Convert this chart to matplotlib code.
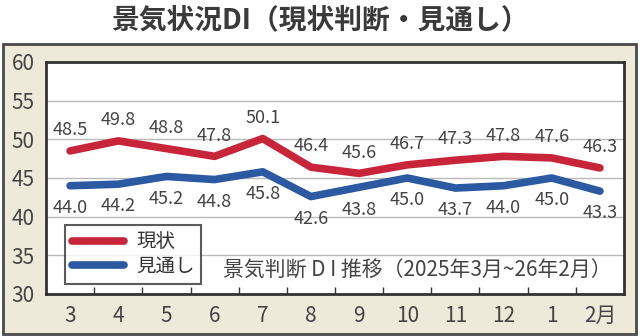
import matplotlib
matplotlib.use('Agg')
import matplotlib.pyplot as plt
from matplotlib.patches import Rectangle

# ---- data ----
months = ['3', '4', '5', '6', '7', '8', '9', '10', '11', '12', '1', '2月']
current = [48.5, 49.8, 48.8, 47.8, 50.1, 46.4, 45.6, 46.7, 47.3, 47.8, 47.6, 46.3]   # 現状
outlook = [44.0, 44.2, 45.2, 44.8, 45.8, 42.6, 43.8, 45.0, 43.7, 44.0, 45.0, 43.3]   # 見通し
yticks = [30, 35, 40, 45, 50, 55, 60]

RED = '#C8253A'
BLUE = '#2B5AA3'
TXT = '#444444'
NUM_FONT = ['Liberation Sans Narrow', 'Noto Sans CJK JP']
JP_FONT = ['Noto Sans CJK JP', 'DejaVu Sans']

W, H = 640, 336
fig = plt.figure(figsize=(W / 100, H / 100), dpi=100)
fig.patch.set_facecolor('white')

# beige frame
fig.patches.append(Rectangle((3 / W, 2 / H), 633 / W, 290 / H, transform=fig.transFigure,
                             facecolor='#EEEADA', edgecolor='#4a4a4a', lw=2, zorder=-10))
fig.text(0.5, 1 - 20 / H, '景気状況DI（現状判断・見通し）', ha='center', va='center',
         fontsize=20, fontweight='bold', color='#3a3a3a', family=JP_FONT)

ax = fig.add_axes([46 / W, 42 / H, 578 / W, 232 / H])
ax.set_facecolor('white')
x = list(range(len(months)))

ax.plot(x, current, color=RED, lw=5.5, solid_capstyle='round', solid_joinstyle='round',
        label='現状', zorder=3)
ax.plot(x, outlook, color=BLUE, lw=5.5, solid_capstyle='round', solid_joinstyle='round',
        label='見通し', zorder=3)

for i, v in enumerate(current):
    ax.annotate(f'{v:.1f}', (i, v), xytext=(0, 15), textcoords='offset points',
                ha='center', va='center', fontsize=13, color=TXT, family=NUM_FONT)
for i, v in enumerate(outlook):
    ax.annotate(f'{v:.1f}', (i, v), xytext=(0, -16), textcoords='offset points',
                ha='center', va='center', fontsize=13, color=TXT, family=NUM_FONT)

ax.set_xlim(-0.5, len(months) - 0.5)
ax.set_ylim(30, 60)
ax.set_yticks(yticks)
ax.set_yticklabels([str(t) for t in yticks], family=NUM_FONT, fontsize=15, color=TXT)
ax.set_xticks(x)
ax.set_xticklabels(months, family=NUM_FONT, fontsize=15, color=TXT)
ax.set_xticks([i + 0.5 for i in x[:-1]], minor=True)
ax.tick_params(axis='both', which='major', length=0, pad=8)
ax.tick_params(axis='x', which='minor', direction='in', length=5, width=1, color='#333333')
ax.grid(axis='y', color='#BBBBBB', lw=1)
ax.set_axisbelow(True)
for s in ax.spines.values():
    s.set_color('#333333')
    s.set_linewidth(2)

leg = ax.legend(loc='lower left', bbox_to_anchor=(0.033, 0.043), borderaxespad=0,
                fancybox=False, handlelength=2.7, handletextpad=0.6, labelspacing=0.2,
                borderpad=0.35, prop={'family': JP_FONT, 'size': 14})
leg.get_frame().set_edgecolor('#333333')
leg.get_frame().set_linewidth(1.5)
for t in leg.get_texts():
    t.set_color('#333333')

ax.text(0.978, 0.1, '景気判断 D I 推移（2025年3月~26年2月）', transform=ax.transAxes,
        ha='right', va='center', fontsize=15, color=TXT, family=JP_FONT)

fig.savefig('out.png', dpi=100)
